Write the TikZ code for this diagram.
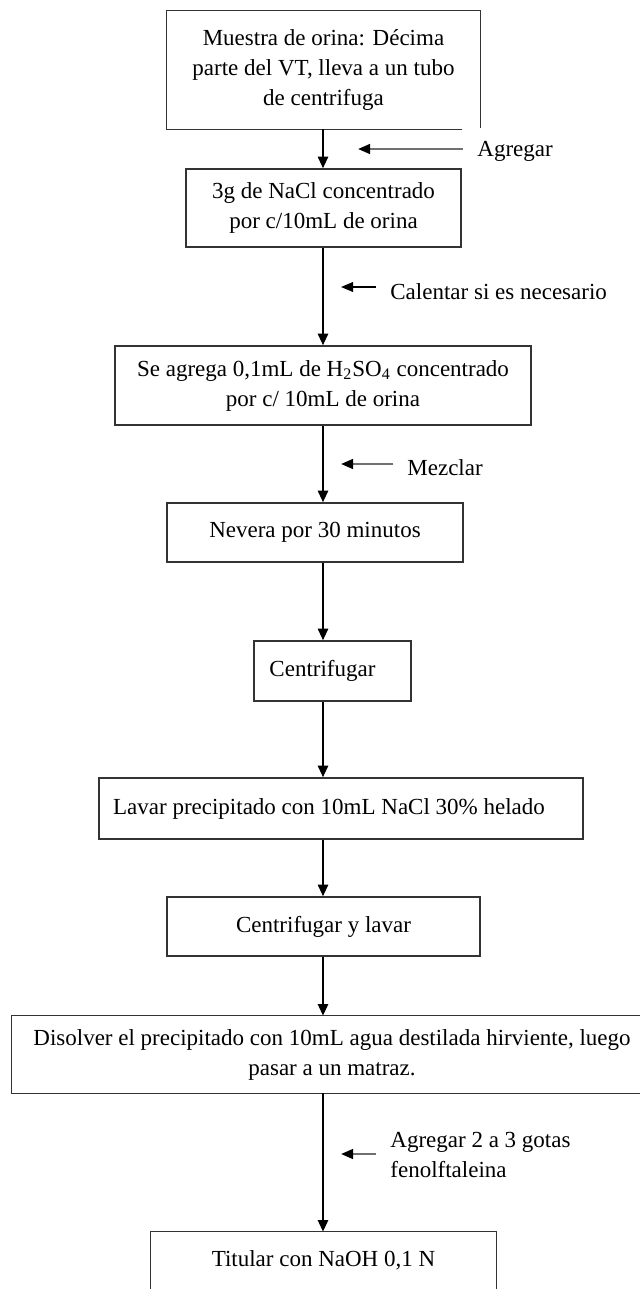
\documentclass[tikz,border=0pt]{standalone}
\usepackage{fontspec}
\setmainfont{Liberation Serif}
\usetikzlibrary{arrows.meta}
\definecolor{boxline}{HTML}{333333}
\definecolor{sidegray}{HTML}{707070}
\tikzset{
  box/.style={draw=boxline, line width=0.8pt, rectangle, inner sep=0pt, align=center,
    font=\fontsize{11.5pt}{15pt}\selectfont},
  openbox/.style={rectangle, inner sep=0pt, align=center,
    font=\fontsize{11.5pt}{15pt}\selectfont},
  edgeline/.style={draw=boxline, line width=0.8pt},
  flow/.style={draw=black, line width=0.8pt, -{Triangle[length=5.8pt,width=5.2pt]}},
  sidearr/.style={draw=sidegray, line width=1.2pt, -{Triangle[length=6pt,width=4.8pt,fill=black,color=black]}},
  sidearrk/.style={draw=black, line width=0.9pt, -{Triangle[length=6pt,width=4.8pt]}},
  lbl/.style={anchor=west, inner sep=0pt, align=left,
    font=\fontsize{11.5pt}{15pt}\selectfont}
}
\begin{document}
\begin{tikzpicture}[x=0.5pt,y=-0.5pt]
\useasboundingbox (0,0) rectangle (640,1289);
\clip (0,0) rectangle (640,1289);
\fill[white] (0,0) rectangle (640,1289);
\coordinate (ax) at (323,0);
% boxes
\node[openbox, minimum width=156.5pt, minimum height=59pt] (b1) at (323.5,70)
  {\raisebox{1.5pt}{\parbox{150pt}{\centering Muestra de orina: Décima\\ parte  del VT, lleva a un tubo\\ de centrifuga}}};
\draw[edgeline] ([xshift=-9pt]b1.south east) -- (b1.south west) -- (b1.north west) -- (b1.north east) -- ([yshift=0.5pt]b1.south east);
\node[box, minimum width=137.5pt, minimum height=39pt] (b2) at (323.5,208)
  {3g de NaCl concentrado\\ por c/10mL de orina};
\node[box, minimum width=208pt, minimum height=39.5pt] (b3) at (323,385.5)
  {Se agrega 0,1mL de H\textsubscript{2}SO\textsubscript{4} concentrado\\ por c/ 10mL de orina};
\node[box, minimum width=148pt, minimum height=29.5pt] (b4) at (315,532.5)
  {\raisebox{1pt}{Nevera por 30 minutos}};
\node[box, minimum width=78.5pt, minimum height=30pt] (b5) at (332.5,671)
  {\raisebox{1.5pt}{Centrifugar}\hspace{10pt}};
\node[box, minimum width=242pt, minimum height=30.5pt] (b6) at (341,808.5)
  {\raisebox{1.5pt}{Lavar precipitado con 10mL NaCl 30\% helado}\hspace{12pt}};
\node[box, minimum width=156.5pt, minimum height=29.5pt] (b7) at (323.5,926.5)
  {Centrifugar y lavar};
\node[openbox, minimum width=320pt, minimum height=38.5pt] (b8) at (332,1054.5)
  {Disolver el precipitado con 10mL agua destilada hirviente, luego\\ pasar a un matraz.};
\draw[edgeline] (b8.north east) -- (b8.north west) -- (b8.south west) -- (b8.south east);
\node[openbox, minimum width=172.5pt, minimum height=28pt] (b9) at (323.5,1260)
  {Titular con NaOH 0,1 N};
\draw[edgeline] ([yshift=-2pt]b9.south west) -- (b9.north west) -- (b9.north east) -- ([yshift=-2pt]b9.south east);
% main flow
\draw[flow] (ax |- b1.south) -- (ax |- b2.north);
\draw[flow] (ax |- b2.south) -- (ax |- b3.north);
\draw[flow] (ax |- b3.south) -- (ax |- b4.north);
\draw[flow] (ax |- b4.south) -- (ax |- b5.north);
\draw[flow] (ax |- b5.south) -- (ax |- b6.north);
\draw[flow] (ax |- b6.south) -- (ax |- b7.north);
\draw[flow] (ax |- b7.south) -- (ax |- b8.north);
\draw[flow] (ax |- b8.south) -- (ax |- b9.north);
% side labels
\node[lbl] (l1) at (477,151) {Agregar};
\coordinate (l1s) at (463,149); \coordinate (l1e) at (358,149);
\draw[sidearr] (l1s) -- (l1e);
\node[lbl] (l2) at (390,292) {Calentar si es necesario};
\coordinate (l2s) at (376,287); \coordinate (l2e) at (341,287);
\draw[sidearrk] (l2s) -- (l2e);
\node[lbl] (l3) at (407,468) {Mezclar};
\coordinate (l3s) at (393,464); \coordinate (l3e) at (341,464);
\draw[sidearr] (l3s) -- (l3e);
\node[lbl] (l4) at (390,1155) {Agregar 2 a 3 gotas\\ fenolftaleina};
\coordinate (l4s) at (376,1154); \coordinate (l4e) at (341,1154);
\draw[sidearr] (l4s) -- (l4e);
\end{tikzpicture}
\end{document}
